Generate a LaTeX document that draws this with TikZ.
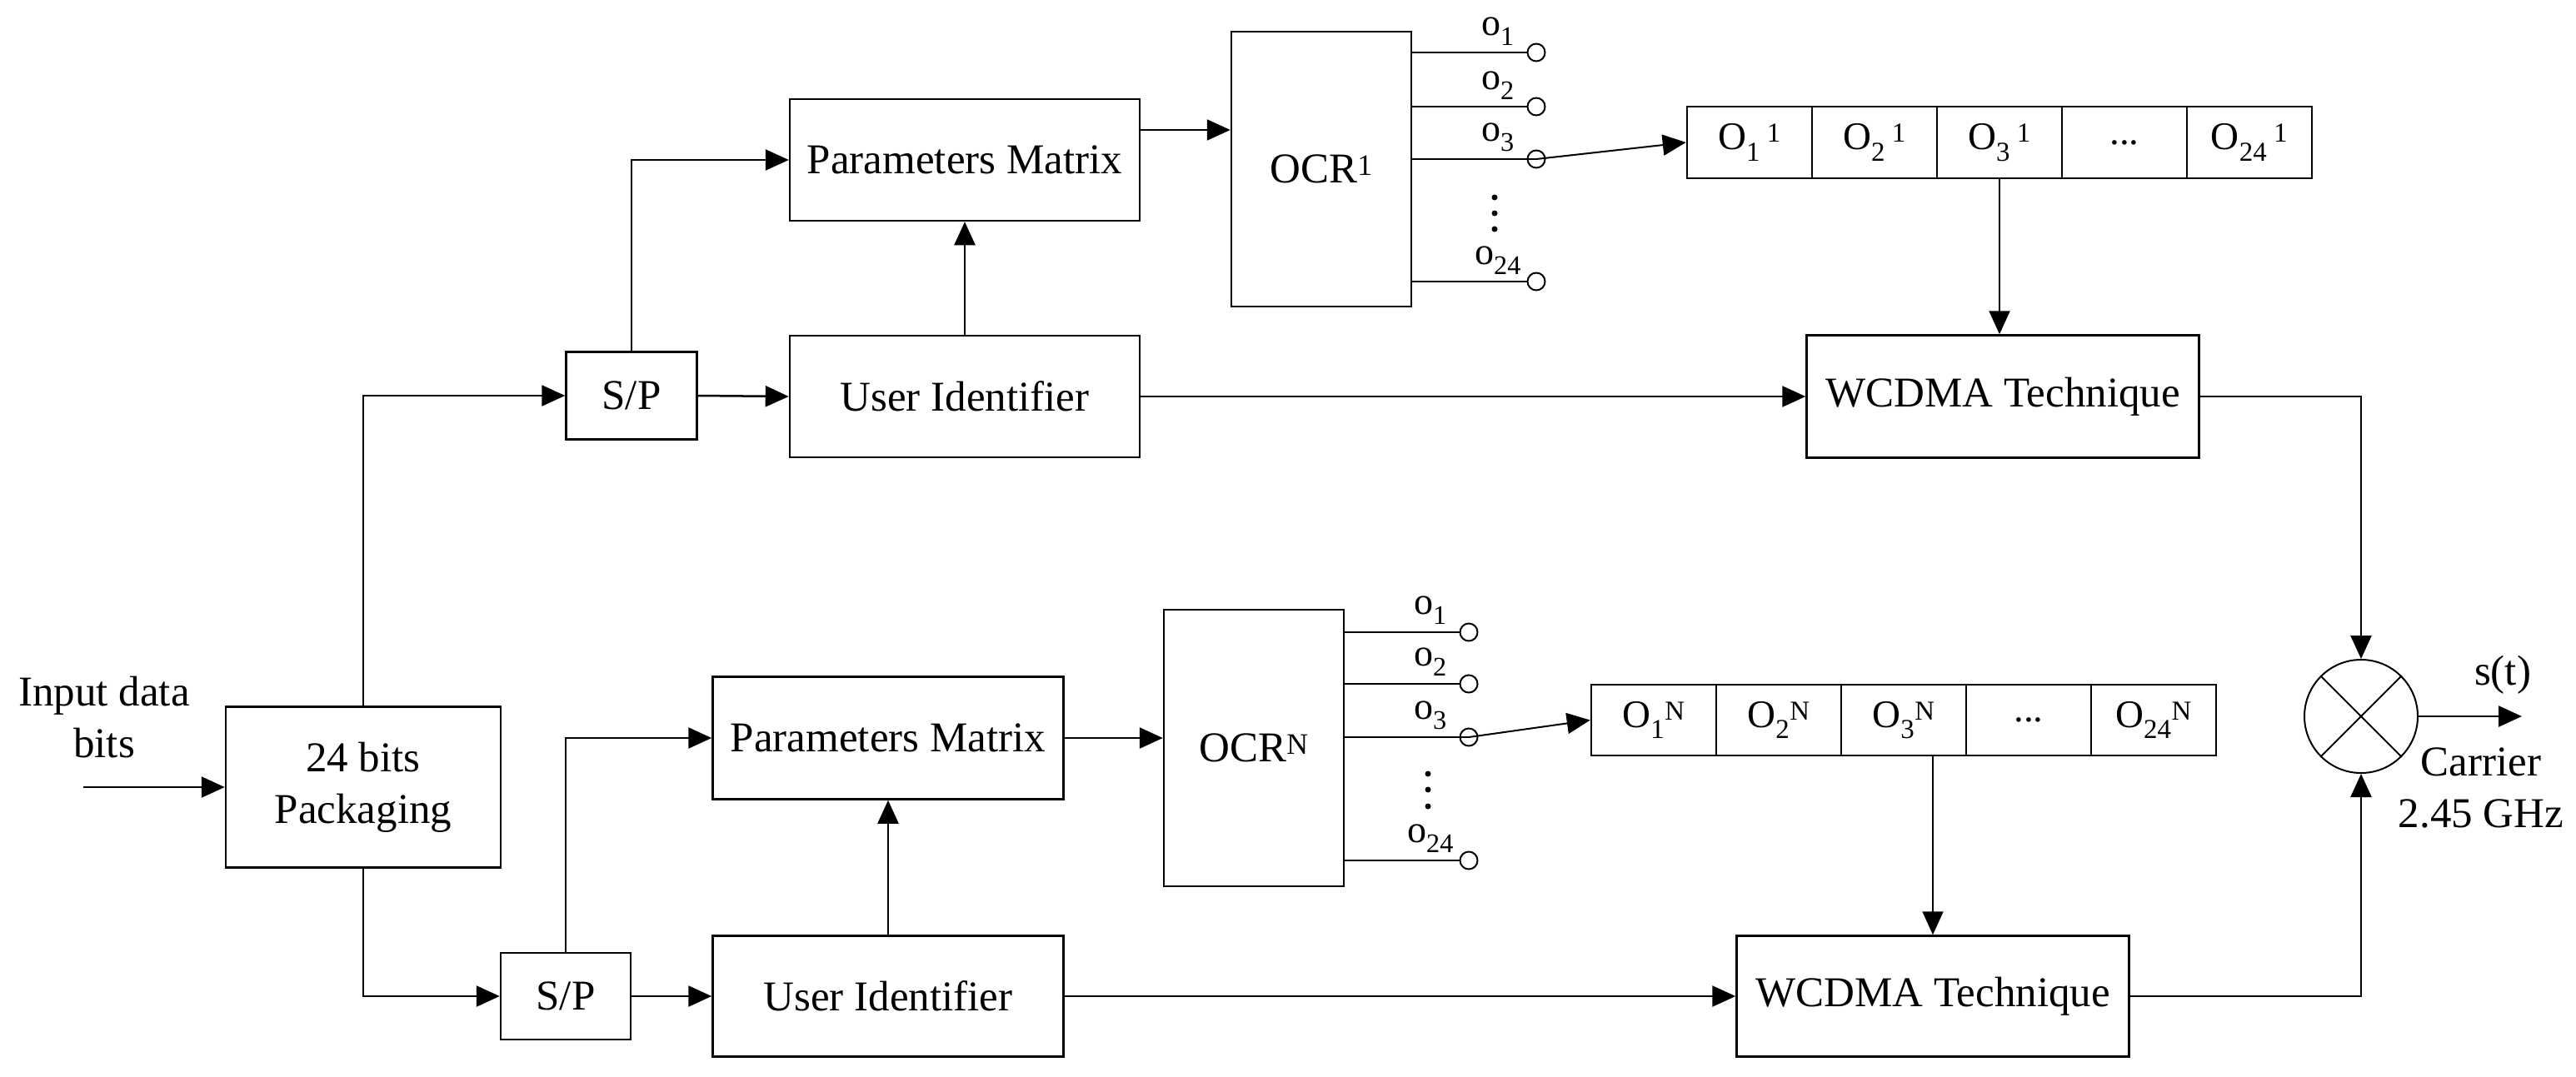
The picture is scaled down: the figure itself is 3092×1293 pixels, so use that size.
\documentclass[tikz,border=0pt]{standalone}
\usepackage{fontspec}
\setmainfont{Liberation Serif}
\usetikzlibrary{arrows.meta}
\begin{document}
\begin{tikzpicture}[x=1pt,y=-1pt,line width=2.5pt,
  every node/.style={font=\fontsize{51}{62}\selectfont},
  blk/.style={draw,inner sep=0pt,align=center},
  cell/.style={draw,inner sep=0pt,minimum width=150pt,font=\fontsize{47}{56}\selectfont},
  term/.style={draw,circle,fill=white,inner sep=0pt,minimum size=21pt,line width=2pt},
  olab/.style={anchor=base,inner sep=0pt,font=\fontsize{46}{54}\selectfont},
  arr/.style={-{Triangle[length=28pt,width=25pt]}},
  txt/.style={align=center,inner sep=0pt}]
\useasboundingbox (0,0) rectangle (3092,1293);

% input and packaging
\node[txt] (inp) at (125,861) {Input data\\bits};
\node[blk,minimum width=330pt,minimum height=193pt] (pk) at (436,945) {24 bits\\Packaging};
\coordinate (inS) at (100,945);
\draw[arr] (inS) -- (pk.west);

% ---------- top branch ----------
\node[blk,minimum width=157pt,minimum height=105pt] (sp1) at (758,475) {S/P};
\node[blk,minimum width=420pt,minimum height=146pt] (ui1) at (1158,476) {User Identifier};
\node[blk,minimum width=420pt,minimum height=146pt] (pm1) at (1158,192) {Parameters Matrix};
\node[blk,minimum width=216pt,minimum height=330pt] (ocr1) at (1586,203) {OCR\textsuperscript{1}};
\node[term] (ta1) at (1844,63) {};
\node[term] (ta2) at (1844,128) {};
\node[term] (ta3) at (1844,191) {};
\node[term] (ta24) at (1844,338) {};
\node[olab] (la1) at (1798,42) {o\textsubscript{1}};
\node[olab] (la2) at (1798,107) {o\textsubscript{2}};
\node[olab] (la3) at (1798,169) {o\textsubscript{3}};
\node[olab] (la24) at (1798,317) {o\textsubscript{24}};
\fill (1794,237) circle (3.5pt) (1794,256) circle (3.5pt) (1794,275) circle (3.5pt);

\node[cell,minimum height=86pt] (r1a) at (2100,171) {O\textsubscript{1}\,\textsuperscript{1}};
\node[cell,minimum height=86pt] (r1b) at (2250,171) {O\textsubscript{2}\,\textsuperscript{1}};
\node[cell,minimum height=86pt] (r1c) at (2400,171) {O\textsubscript{3}\,\textsuperscript{1}};
\node[cell,minimum height=86pt] (r1d) at (2550,171) {...};
\node[cell,minimum height=86pt] (r1e) at (2700,171) {O\textsubscript{24}\,\textsuperscript{1}};
\node[blk,minimum width=471pt,minimum height=147pt] (wc1) at (2404,476) {WCDMA Technique};

\draw[arr] (pk.north) |- (sp1.west);
\draw[arr] (sp1.north) |- (pm1.west);
\draw[arr] (sp1.east) -- (ui1.west);
\draw[arr] (ui1.north) -- (pm1.south);
\coordinate (p1o) at ([yshift=36pt]pm1.east);
\draw[arr] (p1o) -- (p1o -| ocr1.west);
\draw (ocr1.east |- ta1) -- (ta1.west);
\draw (ocr1.east |- ta2) -- (ta2.west);
\draw (ocr1.east |- ta3) -- (ta3.center);
\draw (ocr1.east |- ta24) -- (ta24.west);
\draw[arr,line width=2pt] (ta3.center) -- (r1a.west);
\draw[arr,line width=2pt] (r1c.south) -- (r1c.south |- wc1.north);
\draw[arr] (ui1.east) -- (wc1.west);

% ---------- bottom branch ----------
\node[blk,minimum width=156pt,minimum height=104pt] (sp2) at (679,1196) {S/P};
\node[blk,minimum width=421pt,minimum height=145pt] (ui2) at (1066,1196) {User Identifier};
\node[blk,minimum width=421pt,minimum height=147pt] (pm2) at (1066,886) {Parameters Matrix};
\node[blk,minimum width=216pt,minimum height=332pt] (ocr2) at (1505,898) {OCR\textsuperscript{N}};
\node[term] (tb1) at (1763,759) {};
\node[term] (tb2) at (1763,821) {};
\node[term] (tb3) at (1763,885) {};
\node[term] (tb24) at (1763,1033) {};
\node[olab] (lb1) at (1717,737) {o\textsubscript{1}};
\node[olab] (lb2) at (1717,799) {o\textsubscript{2}};
\node[olab] (lb3) at (1717,863) {o\textsubscript{3}};
\node[olab] (lb24) at (1717,1011) {o\textsubscript{24}};
\fill (1714,929) circle (3.5pt) (1714,948) circle (3.5pt) (1714,968) circle (3.5pt);

\node[cell,minimum height=85pt] (r2a) at (1985,864.5) {O\textsubscript{1}\textsuperscript{N}};
\node[cell,minimum height=85pt] (r2b) at (2135,864.5) {O\textsubscript{2}\textsuperscript{N}};
\node[cell,minimum height=85pt] (r2c) at (2285,864.5) {O\textsubscript{3}\textsuperscript{N}};
\node[cell,minimum height=85pt] (r2d) at (2435,864.5) {...};
\node[cell,minimum height=85pt] (r2e) at (2585,864.5) {O\textsubscript{24}\textsuperscript{N}};
\node[blk,minimum width=471pt,minimum height=145pt] (wc2) at (2320,1196) {WCDMA Technique};

\draw[arr] (pk.south) |- (sp2.west);
\draw[arr] (sp2.north) |- (pm2.west);
\draw[arr] (sp2.east) -- (ui2.west);
\draw[arr] (ui2.north) -- (pm2.south);
\draw[arr] (pm2.east) -- (pm2.east -| ocr2.west);
\draw (ocr2.east |- tb1) -- (tb1.west);
\draw (ocr2.east |- tb2) -- (tb2.west);
\draw (ocr2.east |- tb3) -- (tb3.center);
\draw (ocr2.east |- tb24) -- (tb24.west);
\draw[arr,line width=2pt] (tb3.center) -- (r2a.west);
\draw[arr,line width=2pt] (wc2.north |- r2c.south) -- (wc2.north);
\draw[arr] (ui2.east) -- (wc2.west);

% ---------- mixer ----------
\node[draw,circle,inner sep=0pt,minimum size=136pt,line width=2pt] (mix) at (2834,860) {};
\draw[line width=2pt] (mix.north east) -- (mix.south west);
\draw[line width=2pt] (mix.north west) -- (mix.south east);
\draw[arr] (wc1.east) -| (mix.north);
\draw[arr] (wc2.east) -| (mix.south);
\coordinate (sout) at (3027,860);
\draw[arr] (mix.east) -- (sout);
\node[txt] (st) at (3004,810) {s(t)};
\node[txt] (car) at (2978,946) {Carrier\\2.45 GHz};
\end{tikzpicture}
\end{document}
